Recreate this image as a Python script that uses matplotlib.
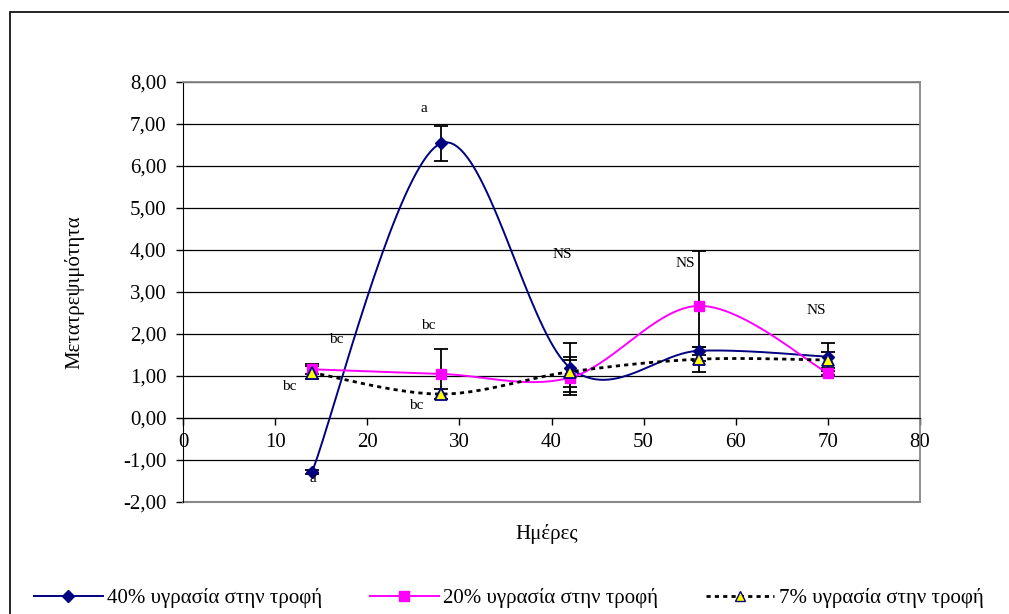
import numpy as np
import matplotlib
matplotlib.use("Agg")
import matplotlib.pyplot as plt
from matplotlib.patches import Rectangle
from matplotlib.ticker import FuncFormatter

plt.rcParams['font.family'] = ['Liberation Serif', 'DejaVu Serif']

# --- data ---
days = [14, 28, 42, 56, 70]
y40 = [-1.29, 6.54, 1.20, 1.60, 1.46]
e40 = [0.05, 0.42, 0.58, 0.10, 0.33]
y20 = [1.16, 1.05, 0.96, 2.67, 1.07]
e20 = [0.12, 0.59, 0.41, 1.31, 0.05]
y7 = [1.08, 0.57, 1.10, 1.40, 1.38]
e7 = [0.15, 0.12, 0.36, 0.30, 0.19]

labels = ["40% υγρασία στην τροφή", "20% υγρασία στην τροφή", "7% υγρασία στην τροφή"]

note_txt = ["a", "a", "bc", "bc", "bc", "bc", "NS", "NS", "NS"]
note_x = [26.1, 14.1, 16.6, 11.5, 26.6, 25.3, 41.2, 54.5, 68.7]
note_y = [7.38, -1.43, 1.86, 0.74, 2.21, 0.29, 3.90, 3.67, 2.57]


def smooth(x, y, n=40):
    # Excel-like smoothed line (Catmull-Rom / Bezier)
    x = np.asarray(x, float)
    y = np.asarray(y, float)
    px = np.concatenate([[x[0]], x, [x[-1]]])
    py = np.concatenate([[y[0]], y, [y[-1]]])
    xs, ys = [], []
    t = np.linspace(0, 1, n)
    for i in range(1, len(px) - 2):
        p0 = np.array([px[i], py[i]])
        p3 = np.array([px[i + 1], py[i + 1]])
        p1 = p0 + (np.array([px[i + 1], py[i + 1]]) - np.array([px[i - 1], py[i - 1]])) / 6
        p2 = p3 - (np.array([px[i + 2], py[i + 2]]) - np.array([px[i], py[i]])) / 6
        b = ((1 - t) ** 3)[:, None] * p0 + (3 * (1 - t) ** 2 * t)[:, None] * p1 \
            + (3 * (1 - t) * t ** 2)[:, None] * p2 + (t ** 3)[:, None] * p3
        xs.extend(b[:, 0])
        ys.extend(b[:, 1])
    return xs, ys


fig = plt.figure(figsize=(10.09, 6.14), dpi=100)
ax = fig.add_axes([183 / 1009, 112 / 614, 737 / 1009, 420 / 614])

# outer chart border
fig.patches.append(Rectangle((10 / 1009, -0.1), 1.2, 0.1 + (614 - 12) / 614,
                             transform=fig.transFigure, fill=False,
                             edgecolor='black', lw=1.2))

ax.set_xlim(0, 80)
ax.set_ylim(-2, 8)
ax.set_yticks(np.arange(-2, 9, 1))
ax.set_xticks(np.arange(0, 81, 10))
ax.yaxis.set_major_formatter(FuncFormatter(lambda v, p: f"{v:.2f}".replace(".", ",")))
ax.grid(axis='y', color='black', lw=0.9)
ax.set_axisbelow(True)

for s in ['top', 'right']:
    ax.spines[s].set_color('#888888')
    ax.spines[s].set_linewidth(1.3)
ax.spines['left'].set_color('black')
ax.spines['bottom'].set_position(('data', 0))
ax.spines['bottom'].set_color('black')
ax.axhline(-2, color='#888888', lw=1.5, clip_on=False)
ax.tick_params(labelsize=15, length=5, width=1, colors='black')
ax.tick_params(axis='y', pad=7)
ax.tick_params(axis='x', pad=6)

# error bars
for yy, ee in [(y40, e40), (y20, e20), (y7, e7)]:
    ax.errorbar(days, yy, yerr=ee, fmt='none', ecolor='black', elinewidth=1.3,
                capsize=5, capthick=1.3, zorder=3)

sx, sy = smooth(days, y40)
ax.plot(sx, sy, color='#000080', lw=1.4, zorder=4)
sx, sy = smooth(days, y20)
ax.plot(sx, sy, color='#FF00FF', lw=1.4, zorder=4)
sx, sy = smooth(days, y7)
ax.plot(sx, sy, color='black', lw=2, ls=(0, (1.5, 1.5)), zorder=4)

ax.plot(days, y40, ls='none', marker='D', ms=6.5, color='#000080', zorder=5)
ax.plot(days, y20, ls='none', marker='s', ms=6.5, color='#FF00FF', zorder=5)
ax.plot(days, y7, ls='none', marker='^', ms=8, mfc='#FFFF00', mec='#000080', mew=1.3, zorder=6)

for t, xx, yy in zip(note_txt, note_x, note_y):
    ax.text(xx, yy, t, fontsize=11, ha='center', va='center', zorder=7)

ax.set_ylabel("Μετατρεψιμότητα", fontsize=15)
ax.yaxis.set_label_coords(-0.134, 0.5)
ax.set_xlabel("Ημέρες", fontsize=15)
ax.xaxis.set_label_coords(0.493, -0.052)

# legend handles
h1, = ax.plot([], [], color='#000080', lw=1.4, marker='D', ms=6)
h2, = ax.plot([], [], color='#FF00FF', lw=1.4, marker='s', ms=6.5)
h3, = ax.plot([], [], color='black', lw=2, ls=(0, (1.5, 1.5)), marker='^', ms=7,
              mfc='#FFFF00', mec='#000080')
fig.legend([h1, h2, h3], labels, loc='center', bbox_to_anchor=(0.504, 1 - 598 / 614),
           ncol=3, frameon=False, fontsize=15, handlelength=3.3,
           columnspacing=2.3, handletextpad=0.2)

fig.savefig("out.png", dpi=100)
